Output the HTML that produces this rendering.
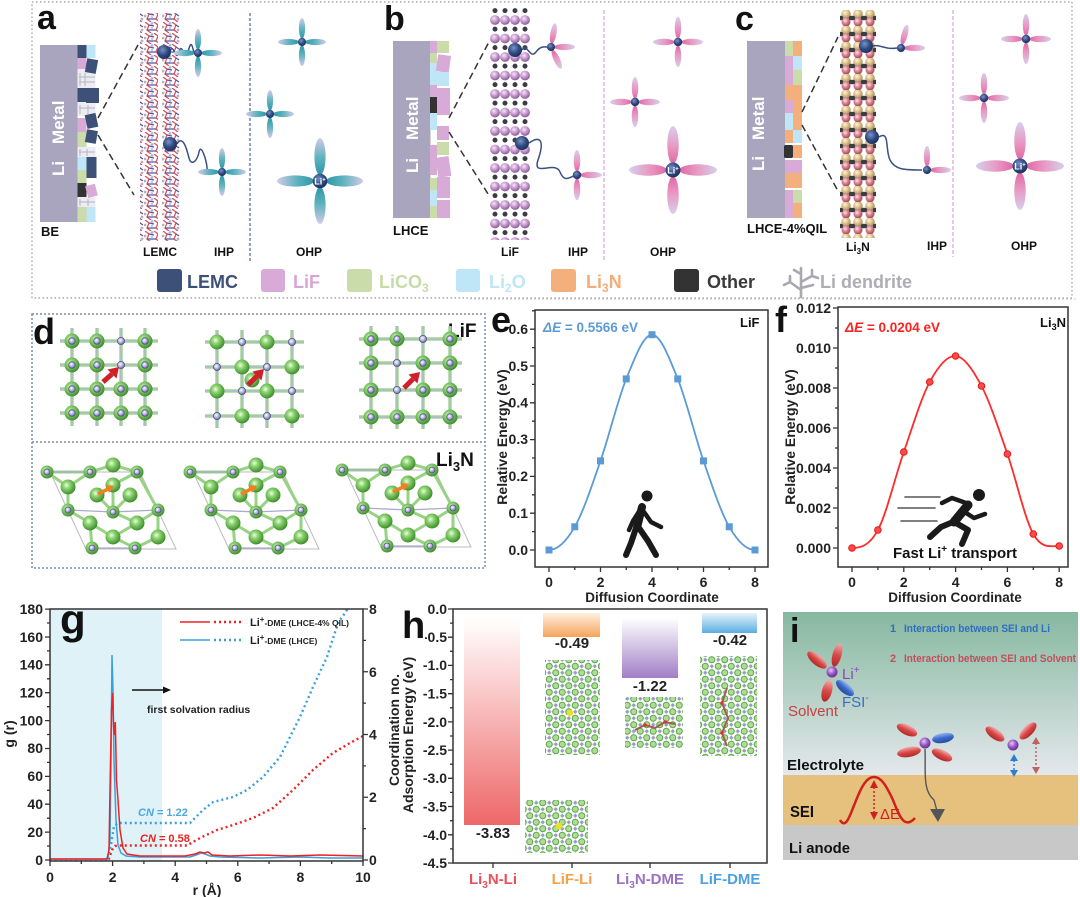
<!DOCTYPE html>
<html><head><meta charset="utf-8"><style>
html,body{margin:0;padding:0;background:#fff;}
svg{display:block;}
text{font-family:"Liberation Sans",Arial,sans-serif;}
.b{font-weight:bold;}
</style></head><body>
<svg width="1080" height="897" viewBox="0 0 1080 897" xmlns="http://www.w3.org/2000/svg">
<defs>
<linearGradient id="gT" x1="0" y1="0" x2="1" y2="0"><stop offset="0" stop-color="#2e97a8"/><stop offset="0.45" stop-color="#5cb2be"/><stop offset="1" stop-color="#d2cbe8"/></linearGradient>
<linearGradient id="gP" x1="0" y1="0" x2="1" y2="0"><stop offset="0" stop-color="#e068a6"/><stop offset="0.45" stop-color="#e898c2"/><stop offset="1" stop-color="#d6cfec"/></linearGradient>
<radialGradient id="rLi" cx="0.4" cy="0.35" r="0.65"><stop offset="0" stop-color="#7a92c8"/><stop offset="0.6" stop-color="#2f4a80"/><stop offset="1" stop-color="#1e3160"/></radialGradient>
<radialGradient id="rG" cx="0.4" cy="0.38" r="0.62"><stop offset="0" stop-color="#f0ffe6"/><stop offset="0.35" stop-color="#90d676"/><stop offset="1" stop-color="#3f8e2c"/></radialGradient>
<radialGradient id="rL" cx="0.4" cy="0.38" r="0.62"><stop offset="0" stop-color="#ffffff"/><stop offset="0.5" stop-color="#babae2"/><stop offset="1" stop-color="#6a6aa0"/></radialGradient>
<radialGradient id="rPu" cx="0.4" cy="0.35" r="0.65"><stop offset="0" stop-color="#f8e8f8"/><stop offset="0.5" stop-color="#c99bd0"/><stop offset="1" stop-color="#8a5a98"/></radialGradient>
<radialGradient id="rTan" cx="0.4" cy="0.35" r="0.65"><stop offset="0" stop-color="#fff4dc"/><stop offset="0.5" stop-color="#dcc08a"/><stop offset="1" stop-color="#a88a50"/></radialGradient>
<radialGradient id="rPk" cx="0.4" cy="0.35" r="0.65"><stop offset="0" stop-color="#ffe0e8"/><stop offset="0.5" stop-color="#d88090"/><stop offset="1" stop-color="#a04858"/></radialGradient>
<radialGradient id="rPurp" cx="0.4" cy="0.35" r="0.65"><stop offset="0" stop-color="#e6c6f4"/><stop offset="0.6" stop-color="#9050c0"/><stop offset="1" stop-color="#6a3090"/></radialGradient>
<linearGradient id="gRed" x1="0" y1="0" x2="0" y2="1"><stop offset="0" stop-color="#f4a8a8"/><stop offset="0.5" stop-color="#d84848"/><stop offset="1" stop-color="#b02828"/></linearGradient>
<linearGradient id="gBlu" x1="0" y1="0" x2="0" y2="1"><stop offset="0" stop-color="#9ab8f0"/><stop offset="0.5" stop-color="#3a6ac8"/><stop offset="1" stop-color="#2a4aa0"/></linearGradient>
<linearGradient id="gb1" x1="0" y1="0" x2="0" y2="1"><stop offset="0" stop-color="#ffffff" stop-opacity="0"/><stop offset="0.1" stop-color="#fff6f6"/><stop offset="1" stop-color="#ee6767"/></linearGradient>
<linearGradient id="gb2" x1="0" y1="0" x2="0" y2="1"><stop offset="0" stop-color="#fff0e0"/><stop offset="1" stop-color="#f6a35a"/></linearGradient>
<linearGradient id="gb3" x1="0" y1="0" x2="0" y2="1"><stop offset="0" stop-color="#ffffff"/><stop offset="1" stop-color="#a17ec6"/></linearGradient>
<linearGradient id="gb4" x1="0" y1="0" x2="0" y2="1"><stop offset="0" stop-color="#e6f3fb"/><stop offset="1" stop-color="#5aaee2"/></linearGradient>
<linearGradient id="elec" x1="0" y1="0" x2="0" y2="1"><stop offset="0" stop-color="#86b8a0"/><stop offset="1" stop-color="#e4e8ec"/></linearGradient>
<g id="pT"><ellipse cx="0.57" cy="0" rx="0.43" ry="0.13" fill="url(#gT)"/></g>
<g id="pP"><ellipse cx="0.57" cy="0" rx="0.43" ry="0.13" fill="url(#gP)"/></g>
<g id="cT"><use href="#pT"/><use href="#pT" transform="rotate(90)"/><use href="#pT" transform="rotate(180)"/><use href="#pT" transform="rotate(270)"/><circle r="0.17" fill="url(#rLi)"/></g>
<g id="cP"><use href="#pP"/><use href="#pP" transform="rotate(90)"/><use href="#pP" transform="rotate(180)"/><use href="#pP" transform="rotate(270)"/><circle r="0.17" fill="url(#rLi)"/></g>
<g id="sG"><circle r="7.5" fill="url(#rG)"/></g>
<g id="sGL"><circle r="7.5" fill="url(#rG)"/><circle r="3.3" fill="url(#rL)" stroke="#55558a" stroke-width="0.8"/></g>
<g id="sL"><circle r="3.6" fill="url(#rL)" stroke="#55558a" stroke-width="0.8"/></g>
<g id="sR"><circle r="6.5" fill="url(#rG)"/><circle r="3" fill="url(#rL)" stroke="#55558a" stroke-width="0.8"/></g>
<pattern id="lemc" x="0" y="0" width="18" height="11" patternUnits="userSpaceOnUse">
<path d="M1,0 L5,3 L3,8 L7,11 M10,0 L14,3 L12,8 L16,11" stroke="#d9505e" stroke-width="1.3" fill="none"/>
<path d="M5,3 L10,4 M3,8 L12,8 M14,3 L17,5" stroke="#4a5aa8" stroke-width="1.3" fill="none"/>
<circle cx="8" cy="1.5" r="1.4" fill="#b4b4bc"/><circle cx="16" cy="8" r="1.4" fill="#b4b4bc"/><circle cx="1" cy="5" r="1.4" fill="#b4b4bc"/><circle cx="8" cy="6" r="1.2" fill="#c8c8d0"/>
</pattern>
<pattern id="lifP" x="490" y="8" width="10" height="18.5" patternUnits="userSpaceOnUse">
<circle cx="5" cy="2.6" r="2.5" fill="#3c3c44"/>
<circle cx="5" cy="12" r="4.9" fill="url(#rPu)"/>
</pattern>
<pattern id="li3nP" x="840" y="10" width="12" height="16" patternUnits="userSpaceOnUse">
<circle cx="6" cy="4" r="4.8" fill="url(#rTan)"/>
<circle cx="6" cy="12" r="4.5" fill="url(#rPk)"/>
<circle cx="1" cy="8" r="2.3" fill="#3c3c44"/><circle cx="11" cy="8" r="2.3" fill="#3c3c44"/>
</pattern>
<pattern id="latG" x="0" y="0" width="13" height="13" patternUnits="userSpaceOnUse">
<path d="M0,3.25 H13 M0,9.75 H13 M3.25,0 V13 M9.75,0 V13" stroke="#c6e0c0" stroke-width="1"/>
<circle cx="3.25" cy="3.25" r="3" fill="#b0dc98" stroke="#5aa848" stroke-width="1"/>
<circle cx="9.75" cy="9.75" r="3" fill="#b0dc98" stroke="#5aa848" stroke-width="1"/>
<circle cx="9.75" cy="3.25" r="1.6" fill="#9a9ac8"/>
<circle cx="3.25" cy="9.75" r="1.6" fill="#9a9ac8"/>
</pattern>
<clipPath id="clipG"><rect x="50" y="609" width="313" height="252"/></clipPath>
</defs>

<!-- ================= TOP PANEL a-c ================= -->
<rect x="32" y="2" width="1040" height="296" fill="none" stroke="#9a9a9a" stroke-width="1.2" stroke-dasharray="1.5,2.5"/>

<!-- panel a -->
<text x="37" y="29" class="b" font-size="34" fill="#111">a</text>
<rect x="40" y="45" width="37.5" height="177" fill="#aaa5bf"/>
<text transform="translate(64,176) rotate(-90)" class="b" font-size="17" fill="#fff">Li</text>
<text transform="translate(64,144) rotate(-90)" class="b" font-size="17" fill="#fff">Metal</text>
<g>
<rect x="77.5" y="45" width="9" height="13" fill="#3d5078"/>
<rect x="77.5" y="58" width="9" height="11" fill="#d7aad8"/>
<rect x="77.5" y="69" width="18" height="19" fill="#ececf2"/>
<rect x="77.5" y="88" width="9" height="14" fill="#3d5078"/>
<rect x="77.5" y="102" width="18" height="14" fill="#ececf2"/>
<rect x="77.5" y="118" width="9" height="14" fill="#d7aad8"/>
<rect x="77.5" y="132" width="9" height="15" fill="#c9dcaa"/>
<rect x="77.5" y="147" width="18" height="10" fill="#ececf2"/>
<rect x="77.5" y="157" width="9" height="13" fill="#bfe6f7"/>
<rect x="77.5" y="170" width="9" height="13" fill="#c9dcaa"/>
<rect x="77.5" y="183" width="9" height="14" fill="#333"/>
<rect x="77.5" y="197" width="18" height="10" fill="#ececf2"/>
<rect x="77.5" y="207" width="9" height="15" fill="#c9dcaa"/>
<rect x="86.5" y="45" width="9" height="13" fill="#bfe6f7"/>
<rect x="86" y="59" width="11" height="14" fill="#3d5078" transform="rotate(10 91 66)"/>
<rect x="86" y="88" width="13" height="15" fill="#3d5078"/>
<rect x="86" y="114" width="11" height="14" fill="#3d5078" transform="rotate(-12 91 121)"/>
<rect x="86" y="130" width="11" height="13" fill="#3d5078" transform="rotate(10 91 136)"/>
<rect x="86.5" y="157" width="10" height="21" fill="#3d5078"/>
<rect x="86.5" y="185" width="10" height="12" fill="#d7aad8" transform="rotate(-15 91 191)"/>
<rect x="86.5" y="207" width="9" height="15" fill="#bfe6f7"/>
<path d="M80,73 V86 M85,73 V86 M79,77 H95 M79,82 H95 M80,105 V114 M88,105 V114 M79,108 H95 M80,149 V156 M87,149 V156 M79,152 H95 M80,199 V206 M88,199 V206 M79,202 H95" stroke="#b4b4c4" stroke-width="1"/>
</g>
<path d="M98,118 L138,45 M98,135 L134,195" stroke="#333" stroke-width="1.5" stroke-dasharray="7,4" fill="none"/>
<rect x="140" y="13" width="18" height="228" fill="url(#lemc)"/>
<rect x="162" y="13" width="18" height="228" fill="url(#lemc)"/>
<path d="M170,52 c3,-12 6,12 9,0 s6,12 9,0 s4,-8 6,1" stroke="#3a5080" stroke-width="1.5" fill="none"/>
<path d="M177,144 c6,-10 10,6 12,14 s8,4 10,-6 s8,10 8,16 s8,4 12,4" stroke="#3a5080" stroke-width="1.5" fill="none"/>
<circle cx="164" cy="52" r="7" fill="url(#rLi)"/>
<circle cx="170" cy="144" r="7" fill="url(#rLi)"/>
<g transform="translate(198,53) scale(24)"><use href="#cT"/></g>
<g transform="translate(222,172) scale(24)"><use href="#cT"/></g>
<line x1="250" y1="13" x2="250" y2="262" stroke="#4a64a0" stroke-width="1.2" stroke-dasharray="3,2"/>
<g transform="translate(302,42) scale(24)"><use href="#cT"/></g>
<g transform="translate(270,114) scale(24)"><use href="#cT"/></g>
<g transform="translate(320,181) scale(43)"><use href="#cT"/></g>
<text x="320" y="184.5" class="b" font-size="9" fill="#fff" text-anchor="middle">Li<tspan font-size="6" dy="-3">+</tspan></text>
<text x="41" y="236" class="b" font-size="13" fill="#111">BE</text>
<text x="143" y="256" class="b" font-size="12" fill="#111">LEMC</text>
<text x="214" y="256" class="b" font-size="12" fill="#111">IHP</text>
<text x="296" y="256" class="b" font-size="12" fill="#111">OHP</text>

<!-- panel b -->
<text x="384" y="30" class="b" font-size="34" fill="#111">b</text>
<rect x="393" y="41" width="37.5" height="177" fill="#aaa5bf"/>
<text transform="translate(418,173) rotate(-90)" class="b" font-size="17" fill="#fff">Li</text>
<text transform="translate(418,140) rotate(-90)" class="b" font-size="17" fill="#fff">Metal</text>
<g>
<rect x="430" y="41" width="7" height="12" fill="#d7aad8"/>
<rect x="430" y="53" width="7" height="10" fill="#c9dcaa"/>
<rect x="430" y="63" width="7" height="22" fill="#bfe6f7"/>
<rect x="430" y="85" width="7" height="12" fill="#d7aad8"/>
<rect x="430" y="97" width="8" height="16" fill="#333"/>
<rect x="430" y="113" width="7" height="17" fill="#bfe6f7"/>
<rect x="430" y="145" width="7" height="30" fill="#d7aad8"/>
<rect x="430" y="178" width="7" height="12" fill="#c9dcaa"/>
<rect x="430" y="190" width="7" height="16" fill="#bfe6f7"/>
<rect x="430" y="206" width="7" height="12" fill="#c9dcaa"/>
<rect x="437" y="41" width="12" height="12" fill="#c9dcaa"/>
<rect x="437" y="55" width="13" height="17" fill="#d7aad8" transform="rotate(8 443 63)"/>
<rect x="437" y="72" width="12" height="14" fill="#bfe6f7"/>
<rect x="437" y="88" width="13" height="27" fill="#d7aad8"/>
<rect x="437" y="126" width="12" height="14" fill="#d7aad8"/>
<rect x="437" y="142" width="12" height="13" fill="#c9dcaa"/>
<rect x="437" y="157" width="13" height="20" fill="#d7aad8" transform="rotate(-8 443 167)"/>
<rect x="437" y="177" width="13" height="21" fill="#d7aad8"/>
<rect x="437" y="200" width="13" height="18" fill="#d7aad8"/>
</g>
<path d="M449,118 L490,40 M449,132 L490,197" stroke="#333" stroke-width="1.5" stroke-dasharray="7,4" fill="none"/>
<rect x="490" y="8" width="40" height="232" fill="url(#lifP)"/>
<path d="M522,50 c5,-8 8,10 14,2 s10,-4 15,-5" stroke="#3a5080" stroke-width="1.5" fill="none"/>
<path d="M529,143 C540,135 545,140 538,160 C532,178 555,160 560,172 S570,176 577,175" stroke="#3a5080" stroke-width="1.5" fill="none"/>
<circle cx="515" cy="50" r="7" fill="url(#rLi)"/>
<circle cx="522" cy="143" r="7" fill="url(#rLi)"/>
<g transform="translate(551,47) scale(24)"><use href="#pP" transform="rotate(-80)"/><use href="#pP"/><use href="#pP" transform="rotate(65)"/><circle r="0.17" fill="url(#rLi)"/></g>
<g transform="translate(577,175) scale(25)"><use href="#pP" transform="rotate(-90)"/><use href="#pP"/><use href="#pP" transform="rotate(90)"/><circle r="0.17" fill="url(#rLi)"/></g>
<line x1="604" y1="10" x2="604" y2="262" stroke="#d8a0d8" stroke-width="1.2" stroke-dasharray="4,2"/>
<g transform="translate(678,42) scale(25)"><use href="#cP"/></g>
<g transform="translate(635,102) scale(25)"><use href="#cP"/></g>
<g transform="translate(673,170) scale(44)"><use href="#cP"/></g>
<text x="673" y="173.5" class="b" font-size="9" fill="#fff" text-anchor="middle">Li<tspan font-size="6" dy="-3">+</tspan></text>
<text x="393" y="235" class="b" font-size="13" fill="#111">LHCE</text>
<text x="501" y="256" class="b" font-size="12" fill="#111">LiF</text>
<text x="568" y="256" class="b" font-size="12" fill="#111">IHP</text>
<text x="650" y="256" class="b" font-size="12" fill="#111">OHP</text>

<!-- panel c -->
<text x="735" y="30" class="b" font-size="34" fill="#111">c</text>
<rect x="747" y="41" width="38" height="177" fill="#aaa5bf"/>
<text transform="translate(764,171) rotate(-90)" class="b" font-size="17" fill="#fff">Li</text>
<text transform="translate(764,140) rotate(-90)" class="b" font-size="17" fill="#fff">Metal</text>
<g>
<rect x="785" y="41" width="8" height="15" fill="#c9dcaa"/>
<rect x="785" y="56" width="8" height="29" fill="#d7aad8"/>
<rect x="785" y="85" width="17" height="15" fill="#f4b07c"/>
<rect x="785" y="100" width="8" height="13" fill="#d7aad8"/>
<rect x="785" y="113" width="8" height="17" fill="#bfe6f7"/>
<rect x="785" y="130" width="8" height="13" fill="#f4b07c"/>
<rect x="784" y="145" width="9" height="13" rx="1.5" fill="#333"/>
<rect x="785" y="160" width="8" height="13" fill="#d7aad8"/>
<rect x="785" y="173" width="17" height="15" fill="#f4b07c"/>
<rect x="785" y="190" width="8" height="28" fill="#d7aad8"/>
<rect x="793" y="41" width="9" height="15" fill="#f4b07c"/>
<rect x="793" y="56" width="9" height="14" fill="#bfe6f7"/>
<rect x="793" y="70" width="9" height="15" fill="#c9dcaa"/>
<rect x="793" y="100" width="9" height="30" fill="#f4b07c"/>
<rect x="793" y="130" width="9" height="13" fill="#bfe6f7"/>
<rect x="793" y="145" width="9" height="13" fill="#f4b07c"/>
<rect x="793" y="160" width="9" height="13" fill="#d7aad8"/>
<rect x="793" y="190" width="9" height="13" fill="#c9dcaa"/>
<rect x="793" y="203" width="9" height="15" fill="#f4b07c"/>
</g>
<path d="M802,112 L838,37 M802,125 L838,191" stroke="#333" stroke-width="1.5" stroke-dasharray="7,4" fill="none"/>
<rect x="840" y="10" width="36" height="228" fill="url(#li3nP)"/>
<path d="M873,46 C880,44 885,50 897,48" stroke="#3a5080" stroke-width="1.5" fill="none"/>
<path d="M879,137 C890,130 885,150 890,160 S905,170 922,170" stroke="#3a5080" stroke-width="1.5" fill="none"/>
<circle cx="866" cy="46" r="7" fill="url(#rLi)"/>
<circle cx="872" cy="137" r="7" fill="url(#rLi)"/>
<g transform="translate(901,48) scale(24)"><use href="#pP" transform="rotate(-75)"/><use href="#pP"/><circle r="0.17" fill="url(#rLi)"/></g>
<g transform="translate(927,170) scale(24)"><use href="#pP" transform="rotate(-90)"/><use href="#pP"/><circle r="0.17" fill="url(#rLi)"/></g>
<line x1="953" y1="10" x2="953" y2="257" stroke="#d8a0d8" stroke-width="1.2" stroke-dasharray="4,2"/>
<g transform="translate(1026,39) scale(25)"><use href="#cP"/></g>
<g transform="translate(984,98) scale(25)"><use href="#cP"/></g>
<g transform="translate(1020,166) scale(44)"><use href="#cP"/></g>
<text x="1020" y="169.5" class="b" font-size="9" fill="#fff" text-anchor="middle">Li<tspan font-size="6" dy="-3">+</tspan></text>
<text x="747" y="233" class="b" font-size="13" fill="#111">LHCE-4%QIL</text>
<text x="846" y="251" class="b" font-size="12" fill="#111">Li<tspan font-size="8" dy="3">3</tspan><tspan dy="-3">N</tspan></text>
<text x="927" y="250" class="b" font-size="12" fill="#111">IHP</text>
<text x="1011" y="250" class="b" font-size="12" fill="#111">OHP</text>

<!-- legend -->
<rect x="157" y="269" width="25" height="23" rx="3" fill="#3d5078"/>
<text x="187" y="288" class="b" font-size="18" fill="#3d5078">LEMC</text>
<rect x="261" y="269" width="24" height="23" rx="3" fill="#d7aad8"/>
<text x="293" y="288" class="b" font-size="18" fill="#d7a6d6">LiF</text>
<rect x="347" y="269" width="25" height="23" rx="3" fill="#c9dcaa"/>
<text x="379" y="288" class="b" font-size="18" fill="#c6dca6">LiCO<tspan font-size="12" dy="4">3</tspan></text>
<rect x="456" y="269" width="24" height="23" rx="3" fill="#bfe6f7"/>
<text x="489" y="288" class="b" font-size="18" fill="#bde6f6">Li<tspan font-size="12" dy="4">2</tspan><tspan dy="-4">O</tspan></text>
<rect x="551" y="269" width="25" height="23" rx="3" fill="#f4b07c"/>
<text x="586" y="288" class="b" font-size="18" fill="#f3ad78">Li<tspan font-size="12" dy="4">3</tspan><tspan dy="-4">N</tspan></text>
<rect x="674" y="269" width="25" height="23" rx="3" fill="#333"/>
<text x="707" y="288" class="b" font-size="18" fill="#3a3a3a">Other</text>
<path d="M801,297 V268 M801,290 L790,282 M790,282 V276 M790,282 L784,285 M801,282 L812,276 M812,276 V270 M812,276 L818,278 M801,274 L794,270 M801,288 L813,285" stroke="#a8a8b2" stroke-width="2.6" fill="none" stroke-linecap="round"/>
<text x="820" y="288" class="b" font-size="18" fill="#adadb5">Li dendrite</text>

<!-- ================= PANEL d ================= -->
<rect x="32" y="314" width="453" height="254" fill="none" stroke="#7a8cb0" stroke-width="1.5" stroke-dasharray="2,2"/>
<line x1="32" y1="442" x2="485" y2="442" stroke="#7a8cb0" stroke-width="1.5" stroke-dasharray="2,2"/>
<text x="33" y="344" class="b" font-size="36" fill="#111">d</text>
<text x="448" y="337" class="b" font-size="19" fill="#111">LiF</text>
<text x="436" y="466" class="b" font-size="19" fill="#111">Li<tspan font-size="13" dy="5">3</tspan><tspan dy="-5">N</tspan></text>

<!-- grid 1 -->
<g>
<path d="M60,341 H158 M60,365 H158 M60,389 H158 M60,413 H158 M72,328 V426 M97,328 V426 M121,328 V426 M145,328 V426" stroke="#a2d890" stroke-width="3.5"/>
<path d="M60,341 H158 M60,365 H158 M60,389 H158 M60,413 H158 M72,328 V426 M97,328 V426 M121,328 V426 M145,328 V426" stroke="#b4b4d8" stroke-width="1.3"/>
<use href="#sGL" x="72" y="341"/><use href="#sGL" x="97" y="341"/><use href="#sL" x="121" y="341"/><use href="#sGL" x="145" y="341"/>
<use href="#sGL" x="72" y="365"/><use href="#sGL" x="97" y="365"/><use href="#sL" x="121" y="365"/><use href="#sGL" x="145" y="365"/>
<use href="#sGL" x="72" y="389"/><use href="#sGL" x="97" y="389"/><use href="#sGL" x="121" y="389"/><use href="#sGL" x="145" y="389"/>
<use href="#sGL" x="72" y="413"/><use href="#sGL" x="97" y="413"/><use href="#sGL" x="121" y="413"/><use href="#sGL" x="145" y="413"/>
<line x1="103" y1="382" x2="112" y2="374" stroke="#d0202a" stroke-width="5"/>
<polygon points="119,367 116.5,378.5 107.5,369.5" fill="#d0202a"/>
</g>
<!-- grid 2 -->
<g>
<path d="M205,342 H304 M205,367 H304 M205,391 H304 M205,416 H304 M217,330 V428 M242,330 V428 M267,330 V428 M292,330 V428" stroke="#a2d890" stroke-width="3.5"/>
<path d="M205,342 H304 M205,367 H304 M205,391 H304 M205,416 H304 M217,330 V428 M242,330 V428 M267,330 V428 M292,330 V428" stroke="#b4b4d8" stroke-width="1.3"/>
<use href="#sG" x="217" y="342"/><use href="#sL" x="242" y="342"/><use href="#sG" x="267" y="342"/><use href="#sL" x="292" y="342"/>
<use href="#sL" x="217" y="367"/><use href="#sG" x="242" y="367"/><use href="#sL" x="267" y="367"/><use href="#sG" x="292" y="367"/>
<use href="#sG" x="217" y="391"/><use href="#sL" x="242" y="391"/><use href="#sG" x="267" y="391"/><use href="#sL" x="292" y="391"/>
<use href="#sL" x="217" y="416"/><use href="#sG" x="242" y="416"/><use href="#sL" x="267" y="416"/><use href="#sG" x="292" y="416"/>
<use href="#sG" x="252" y="380"/>
<line x1="248" y1="385" x2="257" y2="376" stroke="#d0202a" stroke-width="5"/>
<polygon points="264,369 261.5,380.5 252.5,371.5" fill="#d0202a"/>
</g>
<!-- grid 3 -->
<g>
<path d="M359,339 H462 M359,363 H462 M359,390 H462 M359,417 H462 M371,326 V429 M397,326 V429 M423,326 V429 M450,326 V429" stroke="#a2d890" stroke-width="3.5"/>
<path d="M359,339 H462 M359,363 H462 M359,390 H462 M359,417 H462 M371,326 V429 M397,326 V429 M423,326 V429 M450,326 V429" stroke="#b4b4d8" stroke-width="1.3"/>
<use href="#sGL" x="371" y="339"/><use href="#sGL" x="397" y="339"/><use href="#sL" x="423" y="339"/><use href="#sGL" x="450" y="339"/>
<use href="#sGL" x="371" y="363"/><use href="#sL" x="397" y="363"/><use href="#sGL" x="423" y="363"/><use href="#sGL" x="450" y="363"/>
<use href="#sGL" x="371" y="390"/><use href="#sL" x="397" y="390"/><use href="#sGL" x="423" y="390"/><use href="#sGL" x="450" y="390"/>
<use href="#sGL" x="371" y="417"/><use href="#sGL" x="397" y="417"/><use href="#sGL" x="423" y="417"/><use href="#sGL" x="450" y="417"/>
<line x1="404" y1="388" x2="413" y2="379" stroke="#d0202a" stroke-width="5"/>
<polygon points="420,372 417.5,383.5 408.5,374.5" fill="#d0202a"/>
</g>
<!-- Li3N structures -->
<g id="li3nS">
<polygon points="50,472 140,472 176,549 86,549" fill="none" stroke="#bbb" stroke-width="1"/>
<path d="M47,472 L68,487 M90,472 L113,465 L137,472 M68,487 L90,472 M113,485 L137,472 M97,495 L113,512 L130,495 M68,510 L90,523 M113,512 L137,523 L158,510 M90,523 L113,537 L137,523 M113,537 L135,548 M90,523 L92,548 M158,537 L135,548 M158,510 L158,537 M68,487 L68,510 M113,485 L113,512 M47,472 L90,472 M137,472 L158,510" stroke="#98d284" stroke-width="3" fill="none"/>
<path d="M47,472 L90,472 M113,512 L158,510 M68,510 L113,512 M92,548 L135,548" stroke="#aaaad0" stroke-width="1.3" fill="none"/>
<use href="#sR" x="47" y="472"/><use href="#sR" x="90" y="472"/><use href="#sR" x="137" y="472"/>
<use href="#sG" x="113" y="465"/><use href="#sG" x="68" y="487"/><use href="#sG" x="113" y="485"/>
<use href="#sG" x="97" y="495"/><use href="#sG" x="130" y="495"/>
<use href="#sR" x="68" y="510"/><use href="#sR" x="113" y="512"/><use href="#sR" x="158" y="510"/>
<use href="#sG" x="90" y="523"/><use href="#sG" x="137" y="523"/><use href="#sG" x="113" y="537"/><use href="#sG" x="158" y="537"/>
<use href="#sR" x="92" y="548"/><use href="#sR" x="135" y="548"/>
<line x1="98" y1="494" x2="108" y2="489" stroke="#f08020" stroke-width="3.5"/>
<polygon points="114,486 106,485 109,493" fill="#f08020"/>
</g>
<use href="#li3nS" x="143" y="0"/>
<use href="#li3nS" x="295" y="-2"/>

<!-- ================= PANEL e ================= -->
<text x="491" y="332" class="b" font-size="36" fill="#111">e</text>
<rect x="535" y="310" width="233" height="257" fill="none" stroke="#333" stroke-width="1.5"/>
<path d="M535,550 H530 M535,513.2 H530 M535,476.4 H530 M535,439.6 H530 M535,402.8 H530 M535,366 H530 M535,329.2 H530 M535,531.6 H532 M535,494.8 H532 M535,458 H532 M535,421.2 H532 M535,384.4 H532 M535,347.6 H532 M535,310.8 H532" stroke="#333" stroke-width="1.3"/>
<path d="M549,567 V572 M600.5,567 V572 M652,567 V572 M703.5,567 V572 M755,567 V572 M574.75,567 V570 M626.25,567 V570 M677.75,567 V570 M729.25,567 V570" stroke="#333" stroke-width="1.3"/>
<g class="b" font-size="14" fill="#222" text-anchor="end">
<text x="528" y="555">0.0</text><text x="528" y="518">0.1</text><text x="528" y="481">0.2</text><text x="528" y="444">0.3</text><text x="528" y="407.5">0.4</text><text x="528" y="371">0.5</text><text x="528" y="334">0.6</text>
</g>
<g class="b" font-size="14" fill="#222" text-anchor="middle">
<text x="549" y="587">0</text><text x="600.5" y="587">2</text><text x="652" y="587">4</text><text x="703.5" y="587">6</text><text x="755" y="587">8</text>
</g>
<text transform="translate(507,437) rotate(-90)" class="b" font-size="14" fill="#222" text-anchor="middle">Relative Energy (eV)</text>
<text x="652" y="602" class="b" font-size="13.5" fill="#222" text-anchor="middle">Diffusion Coordinate</text>
<path d="M549,550 C557.58,550 566.17,541.65 574.75,526.8 C583.33,511.95 591.92,485.55 600.5,460.9 C609.08,436.25 617.67,399.93 626.25,378.9 C634.83,357.87 643.42,334.7 652,334.7 C660.58,334.7 669.17,357.87 677.75,378.9 C686.33,399.93 694.92,436.25 703.5,460.9 C712.08,485.55 720.67,511.95 729.25,526.8 C737.83,541.65 746.42,550 755,550" fill="none" stroke="#5b9bd5" stroke-width="1.8"/>
<g fill="#5b9bd5">
<rect x="545.5" y="546.5" width="7" height="7"/><rect x="571.25" y="523.3" width="7" height="7"/><rect x="597" y="457.4" width="7" height="7"/><rect x="622.75" y="375.4" width="7" height="7"/><rect x="648.5" y="331.2" width="7" height="7"/><rect x="674.25" y="375.4" width="7" height="7"/><rect x="700" y="457.4" width="7" height="7"/><rect x="725.75" y="523.3" width="7" height="7"/><rect x="751.5" y="546.5" width="7" height="7"/>
</g>
<text x="543" y="332" class="b" font-size="13.5" fill="#5b9bd5"><tspan font-style="italic">ΔE</tspan> = 0.5566 eV</text>
<text x="740" y="327" class="b" font-size="13" fill="#111">LiF</text>
<!-- walking man -->
<g stroke="#1a1a1a" stroke-linecap="round" stroke-linejoin="round" fill="none">
<circle cx="647" cy="496" r="5.5" fill="#1a1a1a" stroke="none"/>
<path d="M642,507 L637,528" stroke-width="8"/>
<path d="M640,510 L633,521 L629,530" stroke-width="4.5"/>
<path d="M644,512 L651,522 L661,527" stroke-width="4.5"/>
<path d="M636,528 L631,543 L626,555" stroke-width="6"/>
<path d="M639,528 L648,541 L656,555" stroke-width="6"/>
</g>

<!-- ================= PANEL f ================= -->
<text x="775" y="332" class="b" font-size="36" fill="#111">f</text>
<rect x="838" y="307" width="230" height="260" fill="none" stroke="#333" stroke-width="1.5"/>
<path d="M838,548 H833 M838,508 H833 M838,468 H833 M838,428 H833 M838,388 H833 M838,348 H833 M838,308 H833 M838,528 H835 M838,488 H835 M838,448 H835 M838,408 H835 M838,368 H835 M838,328 H835" stroke="#333" stroke-width="1.3"/>
<path d="M852,567 V572 M903.8,567 V572 M955.6,567 V572 M1007.4,567 V572 M1059.2,567 V572 M877.9,567 V570 M929.7,567 V570 M981.5,567 V570 M1033.3,567 V570" stroke="#333" stroke-width="1.3"/>
<g class="b" font-size="14" fill="#222" text-anchor="end">
<text x="831" y="553">0.000</text><text x="831" y="513">0.002</text><text x="831" y="473">0.004</text><text x="831" y="433">0.006</text><text x="831" y="393">0.008</text><text x="831" y="353">0.010</text><text x="831" y="313">0.012</text>
</g>
<g class="b" font-size="14" fill="#222" text-anchor="middle">
<text x="852" y="587">0</text><text x="903.8" y="587">2</text><text x="955.6" y="587">4</text><text x="1007.4" y="587">6</text><text x="1059.2" y="587">8</text>
</g>
<text transform="translate(795,437) rotate(-90)" class="b" font-size="14" fill="#222" text-anchor="middle">Relative Energy (eV)</text>
<text x="955" y="602" class="b" font-size="13.5" fill="#222" text-anchor="middle">Diffusion Coordinate</text>
<path d="M852,548 C860.63,548 869.27,546 877.9,530 C886.53,514 895.17,476.67 903.8,452 C912.43,427.33 921.07,398 929.7,382 C938.33,366 946.97,355.33 955.6,356 C964.23,356.67 972.87,369.67 981.5,386 C990.13,402.33 998.77,429.33 1007.4,454 C1016.03,478.67 1024.67,518.67 1033.3,534 C1041.93,549.33 1050.57,546 1059.2,546" fill="none" stroke="#ff2a2a" stroke-width="1.8"/>
<g fill="#ff4a4a" stroke="#e01818" stroke-width="1">
<circle cx="852" cy="548" r="3.3"/><circle cx="877.9" cy="530" r="3.3"/><circle cx="903.8" cy="452" r="3.3"/><circle cx="929.7" cy="382" r="3.3"/><circle cx="955.6" cy="356" r="3.3"/><circle cx="981.5" cy="386" r="3.3"/><circle cx="1007.4" cy="454" r="3.3"/><circle cx="1033.3" cy="534" r="3.3"/><circle cx="1059.2" cy="546" r="3.3"/>
</g>
<text x="845" y="332" class="b" font-size="13.5" fill="#ff2020"><tspan font-style="italic">ΔE</tspan> = 0.0204 eV</text>
<text x="1040" y="327" class="b" font-size="13" fill="#111">Li<tspan font-size="9" dy="3">3</tspan><tspan dy="-3">N</tspan></text>
<!-- running man -->
<g stroke-linecap="round" fill="none">
<path d="M905,497 H940" stroke="#555" stroke-width="1.6"/>
<path d="M898,508 H935" stroke="#555" stroke-width="1.6"/>
<path d="M901,521 H937" stroke="#555" stroke-width="1.6"/>
</g>
<g stroke="#1a1a1a" stroke-linecap="round" stroke-linejoin="round" fill="none">
<circle cx="979" cy="495" r="6" fill="#1a1a1a" stroke="none"/>
<path d="M968,505 L954,522" stroke-width="9"/>
<path d="M966,503 L952,498 L942,503" stroke-width="4.5"/>
<path d="M963,511 L974,518 L985,514" stroke-width="4.5"/>
<path d="M953,522 L941,527 L930,537" stroke-width="6"/>
<path d="M956,523 L968,530 L962,544" stroke-width="6"/>
</g>
<text x="893" y="558" class="b" font-size="15" fill="#111" textLength="124" lengthAdjust="spacingAndGlyphs">Fast Li<tspan font-size="10" dy="-6">+</tspan><tspan dy="6"> transport</tspan></text>
<line x1="470" y1="299" x2="1078" y2="299" stroke="#bbb" stroke-width="1" stroke-dasharray="1.5,2.5"/>

<!-- ================= PANEL g ================= -->
<rect x="50" y="609" width="112" height="252" fill="#dff2f8"/>
<g clip-path="url(#clipG)">
<path d="M50,861.5 L108,861.5 L112,850 L115,846 L120,845.5 L187,845.5 L200,838 L217,830 L233,825 L253,818 L273,808 L293,790 L313,770 L333,753 L350,743 L363,736" fill="none" stroke="#ee2222" stroke-width="2.4" stroke-dasharray="2,3"/>
<path d="M50,861.5 L107,861.5 L111,845 L114,826 L118,823 L190,823 L203,810 L213,802 L233,797 L247,790 L263,777 L280,757 L290,737 L300,717 L313,687 L327,657 L338,623 L347,610 L349,606" fill="none" stroke="#3aa0dc" stroke-width="2.4" stroke-dasharray="2,3"/>
<path d="M50,859 L106,859 L108,857 L110,840 L111,760 L112,655 L113,690 L114,760 L116,820 L118,845 L121,853 L126,856 L140,857 L170,857 L190,857 L196,855 L201,853 L205,854 L210,856 L220,857 L260,858 L300,857 L330,858 L363,858" fill="none" stroke="#3aa0dc" stroke-width="1.5"/>
<path d="M50,859 L107,859 L109,850 L110,790 L111.5,710 L112.7,693 L113.5,725 L114.5,735 L115.3,722 L116.5,780 L118,800 L120,830 L123,848 L127,854 L140,856 L185,856 L195,854 L200,852 L204,853 L208,852 L212,855 L230,856 L260,855 L290,856 L320,855 L363,856" fill="none" stroke="#ee2222" stroke-width="1.5"/>
</g>
<rect x="50" y="609" width="313" height="252" fill="none" stroke="#333" stroke-width="1.5"/>
<path d="M50,860 H45 M50,832.1 H45 M50,804.2 H45 M50,776.4 H45 M50,748.5 H45 M50,720.6 H45 M50,692.7 H45 M50,664.8 H45 M50,637 H45 M50,609.1 H45 M50,846 H47 M50,818.2 H47 M50,790.3 H47 M50,762.4 H47 M50,734.5 H47 M50,706.7 H47 M50,678.8 H47 M50,650.9 H47 M50,623 H47" stroke="#333" stroke-width="1.3"/>
<path d="M363,860 H368 M363,797.25 H368 M363,734.5 H368 M363,671.75 H368 M363,609 H368 M363,828.6 H366 M363,765.9 H366 M363,703.1 H366 M363,640.4 H366" stroke="#333" stroke-width="1.3"/>
<path d="M50,861 V866 M112.6,861 V866 M175.2,861 V866 M237.8,861 V866 M300.4,861 V866 M363,861 V866 M81.3,861 V864 M143.9,861 V864 M206.5,861 V864 M269.1,861 V864 M331.7,861 V864" stroke="#333" stroke-width="1.3"/>
<g class="b" font-size="14" fill="#222" text-anchor="end">
<text x="43" y="865">0</text><text x="43" y="837">20</text><text x="43" y="809">40</text><text x="43" y="781">60</text><text x="43" y="753">80</text><text x="43" y="725.5">100</text><text x="43" y="697.5">120</text><text x="43" y="669.5">140</text><text x="43" y="642">160</text><text x="43" y="614">180</text>
</g>
<g class="b" font-size="14" fill="#222">
<text x="369" y="865">0</text><text x="369" y="802">2</text><text x="369" y="739.5">4</text><text x="369" y="677">6</text><text x="369" y="614">8</text>
</g>
<g class="b" font-size="14" fill="#222" text-anchor="middle">
<text x="50" y="882">0</text><text x="112.6" y="882">2</text><text x="175.2" y="882">4</text><text x="237.8" y="882">6</text><text x="300.4" y="882">8</text><text x="363" y="882">10</text>
</g>
<text x="207" y="895" class="b" font-size="14" fill="#222" text-anchor="middle">r (Å)</text>
<text transform="translate(14,734) rotate(-90)" class="b" font-size="14" fill="#222" text-anchor="middle">g (r)</text>
<text transform="translate(399,730) rotate(-90)" class="b" font-size="14" fill="#222" text-anchor="middle">Coordination no.</text>
<text x="60" y="634" class="b" font-size="42" fill="#111">g</text>
<line x1="180" y1="622" x2="210" y2="622" stroke="#ee2222" stroke-width="1.6"/>
<line x1="214" y1="622" x2="244" y2="622" stroke="#ee2222" stroke-width="2.4" stroke-dasharray="2,3"/>
<text x="250" y="626" class="b" font-size="11" fill="#222">Li<tspan font-size="8" dy="-4">+</tspan><tspan font-size="8.5" dy="4">-DME (LHCE-4% QIL)</tspan></text>
<line x1="180" y1="640" x2="210" y2="640" stroke="#3aa0dc" stroke-width="1.6"/>
<line x1="214" y1="640" x2="244" y2="640" stroke="#3aa0dc" stroke-width="2.4" stroke-dasharray="2,3"/>
<text x="250" y="644" class="b" font-size="11" fill="#222">Li<tspan font-size="8" dy="-4">+</tspan><tspan font-size="8.5" dy="4">-DME (LHCE)</tspan></text>
<line x1="132" y1="690" x2="164" y2="690" stroke="#111" stroke-width="1.5"/>
<polygon points="171,690 163,686.5 163,693.5" fill="#111"/>
<text x="147" y="713" class="b" font-size="10.5" fill="#222">first solvation radius</text>
<text x="138" y="816" class="b" font-size="11" fill="#4aa8e0"><tspan font-style="italic">CN</tspan> = 1.22</text>
<text x="140" y="842" class="b" font-size="11" fill="#ee2020"><tspan font-style="italic">CN</tspan> = 0.58</text>

<!-- ================= PANEL h ================= -->
<rect x="464" y="609" width="56" height="216" fill="url(#gb1)"/>
<rect x="543" y="613" width="57" height="24" fill="url(#gb2)"/>
<rect x="622" y="618" width="56" height="60" fill="url(#gb3)"/>
<rect x="702" y="613" width="55" height="20" fill="url(#gb4)"/>
<rect x="545" y="660" width="55" height="95" fill="url(#latG)"/>
<rect x="525" y="800" width="63" height="53" fill="url(#latG)"/>
<rect x="625" y="697" width="58" height="51" fill="url(#latG)"/>
<rect x="700" y="656" width="57" height="100" fill="url(#latG)"/>
<circle cx="570" cy="713" r="3.2" fill="#f0e020"/>
<circle cx="559" cy="826" r="3.2" fill="#f0e020"/>
<polyline points="635,730 645,725 655,728 665,722 675,724" fill="none" stroke="#a06050" stroke-width="2"/>
<circle cx="645" cy="725" r="1.8" fill="#e03030"/><circle cx="665" cy="722" r="1.8" fill="#e03030"/>
<polyline points="727,688 722,703 728,718 722,733 727,746" fill="none" stroke="#a06050" stroke-width="2"/>
<circle cx="722" cy="703" r="1.8" fill="#e03030"/><circle cx="722" cy="733" r="1.8" fill="#e03030"/>
<rect x="453" y="609" width="314" height="254" fill="none" stroke="#333" stroke-width="1.5"/>
<path d="M453,609 H448 M453,637.2 H448 M453,665.4 H448 M453,693.7 H448 M453,721.9 H448 M453,750.1 H448 M453,778.3 H448 M453,806.5 H448 M453,834.8 H448 M453,863 H448 M453,623.1 H450 M453,651.3 H450 M453,679.6 H450 M453,707.8 H450 M453,736 H450 M453,764.2 H450 M453,792.4 H450 M453,820.7 H450 M453,848.9 H450" stroke="#333" stroke-width="1.3"/>
<path d="M493,863 V868 M572,863 V868 M650,863 V868 M730,863 V868" stroke="#333" stroke-width="1.3"/>
<g class="b" font-size="14" fill="#222" text-anchor="end">
<text x="447" y="614">0.0</text><text x="447" y="642">-0.5</text><text x="447" y="670">-1.0</text><text x="447" y="698.5">-1.5</text><text x="447" y="727">-2.0</text><text x="447" y="755">-2.5</text><text x="447" y="783">-3.0</text><text x="447" y="811.5">-3.5</text><text x="447" y="840">-4.0</text><text x="447" y="868">-4.5</text>
</g>
<text transform="translate(413,735) rotate(-90)" class="b" font-size="14" fill="#222" text-anchor="middle">Adsorption Energy (eV)</text>
<rect x="403" y="612" width="22" height="30" fill="#fff"/>
<text x="402" y="638" class="b" font-size="38" fill="#111">h</text>
<g class="b" font-size="15" fill="#222" text-anchor="middle">
<text x="572" y="648">-0.49</text><text x="493" y="838">-3.83</text><text x="650" y="691">-1.22</text><text x="730" y="645">-0.42</text>
</g>
<g class="b" font-size="15" text-anchor="middle">
<text x="493" y="884" fill="#e8505a">Li<tspan font-size="10" dy="4">3</tspan><tspan dy="-4">N-Li</tspan></text>
<text x="572" y="884" fill="#f5a04a">LiF-Li</text>
<text x="650" y="884" fill="#9a70c0">Li<tspan font-size="10" dy="4">3</tspan><tspan dy="-4">N-DME</tspan></text>
<text x="730" y="884" fill="#4aa0e0">LiF-DME</text>
</g>

<!-- ================= PANEL i ================= -->
<rect x="783" y="612" width="295" height="163" fill="url(#elec)"/>
<rect x="783" y="775" width="295" height="50" fill="#e6c17d"/>
<rect x="783" y="825" width="295" height="35" fill="#c8c8c8"/>
<text x="790" y="642" class="b" font-size="34" fill="#111">i</text>
<text x="890" y="632" class="b" font-size="11" fill="#2f6fbf">1</text>
<text x="904" y="632" class="b" font-size="11" fill="#2f6fbf" textLength="146" lengthAdjust="spacingAndGlyphs">Interaction between SEI and Li</text>
<text x="890" y="662" class="b" font-size="11" fill="#c0505a">2</text>
<text x="904" y="662" class="b" font-size="11" fill="#c0505a" textLength="172" lengthAdjust="spacingAndGlyphs">Interaction between SEI and Solvent</text>
<!-- complex 1 -->
<ellipse cx="837" cy="655" rx="4.5" ry="12" fill="url(#gRed)" transform="rotate(15 837 655)"/>
<ellipse cx="817" cy="660" rx="12" ry="5" fill="url(#gRed)" transform="rotate(40 817 660)"/>
<ellipse cx="827" cy="691" rx="5" ry="11" fill="url(#gRed)" transform="rotate(15 827 691)"/>
<ellipse cx="845" cy="688" rx="11" ry="5" fill="url(#gBlu)" transform="rotate(40 845 688)"/>
<circle cx="832" cy="672" r="5.5" fill="url(#rPurp)"/>
<text x="842" y="679" font-size="15" fill="#8a4ab0">Li<tspan font-size="10" dy="-6">+</tspan></text>
<text x="842" y="707" font-size="15" fill="#3a6fc0">FSI<tspan font-size="10" dy="-6">-</tspan></text>
<text x="788" y="716" font-size="15" fill="#c84040">Solvent</text>
<!-- complex 2 -->
<path d="M925,749 C926,770 922,790 934,800 L937,811" fill="none" stroke="#555" stroke-width="1.4"/>
<polygon points="930,809 945,809 938,822" fill="#555"/>
<ellipse cx="907" cy="730" rx="11" ry="5" fill="url(#gRed)" transform="rotate(25 907 730)"/>
<ellipse cx="909" cy="752" rx="12" ry="5" fill="url(#gRed)" transform="rotate(-10 909 752)"/>
<ellipse cx="943" cy="738" rx="11" ry="5" fill="url(#gBlu)" transform="rotate(-10 943 738)"/>
<ellipse cx="942" cy="755" rx="11" ry="5" fill="url(#gRed)" transform="rotate(25 942 755)"/>
<circle cx="925" cy="743" r="5.5" fill="url(#rPurp)"/>
<!-- complex 3 -->
<ellipse cx="995" cy="734" rx="11" ry="5" fill="url(#gRed)" transform="rotate(35 995 734)"/>
<ellipse cx="1028" cy="731" rx="11" ry="5" fill="url(#gRed)" transform="rotate(-45 1028 731)"/>
<circle cx="1013" cy="745" r="5.5" fill="url(#rPurp)"/>
<line x1="1014" y1="760" x2="1014" y2="771" stroke="#2a7fd0" stroke-width="1.5" stroke-dasharray="2,2"/>
<polygon points="1010,761 1018,761 1014,754" fill="#2a7fd0"/>
<polygon points="1010,770 1018,770 1014,777" fill="#2a7fd0"/>
<line x1="1036" y1="743" x2="1036" y2="768" stroke="#c06060" stroke-width="1.5" stroke-dasharray="2,2"/>
<polygon points="1032,744 1040,744 1036,737" fill="#c06060"/>
<polygon points="1032,767 1040,767 1036,774" fill="#c06060"/>
<!-- SEI bump -->
<path d="M840,820 C846,830 850,815 855,803 C862,785 867,777 874,777 C881,777 886,785 893,800 C899,815 904,830 915,818" fill="none" stroke="#d02020" stroke-width="2.5"/>
<line x1="874" y1="787" x2="874" y2="813" stroke="#d02020" stroke-width="1.5" stroke-dasharray="2,2"/>
<polygon points="870,788 878,788 874,780" fill="#d02020"/>
<polygon points="870,812 878,812 874,820" fill="#d02020"/>
<text x="880" y="819" font-size="15" fill="#d02020">ΔE</text>
<text x="787" y="770" class="b" font-size="15" fill="#111" textLength="77" lengthAdjust="spacingAndGlyphs">Electrolyte</text>
<text x="790" y="817" class="b" font-size="16" fill="#111" textLength="24" lengthAdjust="spacingAndGlyphs">SEI</text>
<text x="789" y="853" class="b" font-size="15" fill="#111" textLength="61" lengthAdjust="spacingAndGlyphs">Li anode</text>
</svg>
</body></html>
